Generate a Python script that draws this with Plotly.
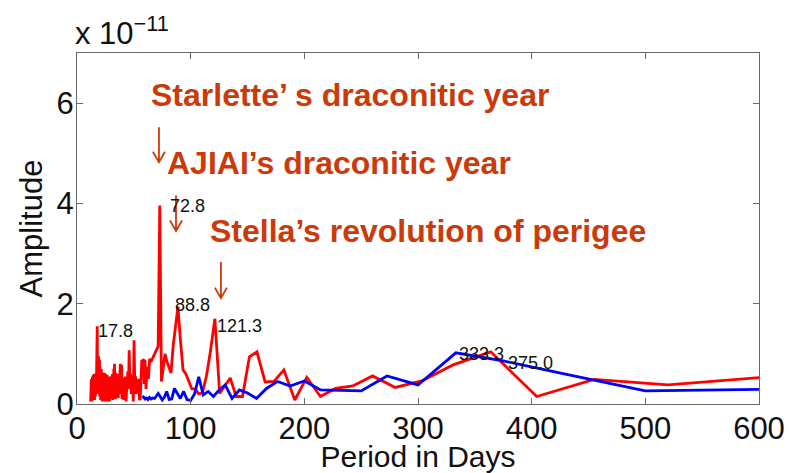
import plotly.graph_objects as go

# Amplitude spectra (amplitudes in units of 1e-11)
red_period = [
    12.0, 12.2, 12.4, 12.6, 12.8, 13.0, 13.2, 13.4, 13.6, 13.8, 14.0, 14.2, 14.4, 14.6, 14.8,
    15.0, 15.2, 15.4, 15.6, 15.8, 16.0, 16.2, 16.4, 16.6, 16.8, 17.0, 17.2, 17.4, 17.6, 17.8,
    18.0, 18.2, 18.4, 18.6, 18.8, 19.0, 19.2, 19.4, 19.6, 19.8,
    20.0, 20.2, 20.4, 20.6, 20.8, 21.0, 21.2, 21.4, 21.6, 21.8,
    22.0, 22.2, 22.4, 22.6, 22.8, 23.0, 23.2, 23.4, 23.6, 23.8,
    24.0, 24.2, 24.4, 24.6, 24.8, 25.0, 25.2, 25.4, 25.6, 25.8,
    26.0, 26.2, 26.4, 26.6, 26.8, 27.0, 27.2, 27.4, 27.6, 27.8,
    28.0, 28.2, 28.4, 28.6, 28.8, 29.0, 29.2, 29.4, 29.6, 29.8,
    30.0, 30.3, 30.6, 30.9, 31.2, 31.5, 31.8, 32.1, 32.4, 32.7,
    33.0, 33.3, 33.6, 33.9, 34.2, 34.5, 34.8, 35.1, 35.4, 35.7,
    36.0, 36.3, 36.6, 36.9, 37.2, 37.5, 37.8, 38.1, 38.4, 38.7,
    39.0, 39.3, 39.6, 39.9, 40.2, 40.5, 40.8, 41.1, 41.4, 41.7,
    42.0, 42.3, 42.6, 42.9, 43.2, 43.5, 43.8, 44.1, 44.4, 44.7,
    45.3, 45.9, 46.5, 47.1, 47.7, 48.3, 48.9, 49.5, 50.2, 50.8, 51.5,
    52.1, 52.8, 53.5, 54.2, 54.9, 55.6, 56.3, 57.0, 57.7, 58.4, 59.1, 59.8, 60.7, 61.7, 62.8,
    63.9, 65.0, 66.2, 67.4, 68.7, 70.0, 71.4, 72.8, 74.3, 75.8, 77.4, 79.1, 80.9, 82.7, 84.7,
    86.7, 88.8, 91.0, 93.3, 95.8, 98.4, 101.1, 104.0, 107.1, 110.3, 113.8, 117.4, 121.3, 125.5,
    130.0, 134.8, 140.0, 145.6, 151.7, 158.3, 165.5, 173.3, 182.0, 191.6, 202.2, 214.1, 227.5,
    242.7, 260.0, 280.0, 303.3, 330.9, 364.0, 404.4, 455.0, 520.0, 606.7,
]
red_amp = [
    0.05, 0.30, 0.10, 0.50, 0.15, 0.45, 0.05, 0.40, 0.55, 0.12, 0.50, 0.25, 0.58, 0.10, 0.45,
    0.30, 0.60, 0.08, 0.50, 0.30, 0.55, 0.15, 0.48, 0.35, 0.60, 0.20, 0.52, 0.40, 0.70, 1.55,
    0.55, 0.92, 0.30, 0.85, 0.45, 0.95, 0.20, 0.70, 0.50, 0.88,
    0.15, 0.74, 0.40, 0.65, 0.08, 0.55, 0.35, 0.70, 0.12, 0.60,
    0.45, 0.05, 0.58, 0.30, 0.62, 0.10, 0.50, 0.40, 0.05, 0.55,
    0.35, 0.62, 0.15, 0.58, 0.45, 0.08, 0.60, 0.30, 0.52, 0.05,
    0.48, 0.25, 0.58, 0.40, 0.10, 0.55, 0.35, 0.50, 0.05, 0.45,
    0.20, 0.55, 0.38, 0.06, 0.52, 0.30, 0.48, 0.10, 0.42, 0.25,
    0.55, 0.12, 0.48, 0.30, 0.60, 0.08, 0.45, 0.35, 0.70, 0.20,
    0.80, 0.40, 0.55, 0.10, 0.62, 0.35, 0.58, 0.15, 0.50, 0.30,
    0.60, 0.12, 0.55, 0.40, 0.20, 0.70, 0.45, 0.80, 0.25, 0.55,
    0.30, 0.78, 0.10, 0.48, 0.25, 0.52, 0.40, 0.08, 0.45, 0.30,
    0.50, 0.15, 0.55, 0.35, 0.05, 0.48, 0.25, 0.55, 0.40, 0.65,
    0.30, 1.07, 0.45, 0.60, 0.20, 0.55, 0.40, 0.05, 1.27, 0.45, 0.55,
    0.20, 0.48, 0.30, 0.50, 0.10, 0.08, 0.55, 0.88, 0.60, 0.90, 0.40, 0.88, 0.30, 0.74, 0.50,
    0.90, 0.84, 0.90, 0.94, 1.00, 1.08, 1.15, 3.96, 0.45, 0.70, 1.00, 0.85, 0.75, 0.62, 1.18,
    1.55, 1.94, 1.27, 0.68, 0.60, 0.45, 0.30, 0.30, 0.20, 0.22, 0.55, 1.05, 1.70, 0.21,
    0.35, 0.52, 0.15, 0.15, 0.94, 1.04, 0.44, 0.45, 0.68, 0.08, 0.53, 0.15, 0.31,
    0.36, 0.56, 0.33, 0.46, 0.78, 1.04, 0.15, 0.49, 0.38, 0.54,
]

blue_period = [
    57.7, 58.8, 60.0, 61.2, 62.5, 63.8, 65.2, 66.7, 68.2, 69.8, 71.4, 73.2, 75.0, 76.9, 78.9,
    81.1, 83.3, 85.7, 88.2, 90.9, 93.8, 96.8, 100.0, 103.4, 107.1, 111.1, 115.4, 120.0, 125.0,
    130.4, 136.4, 142.9, 150.0, 157.9, 166.7, 176.5, 187.5, 200.0, 214.3, 230.8, 250.0, 272.7,
    300.0, 333.3, 375.0, 428.6, 500.0, 600.0,
]
blue_amp = [
    0.16, 0.12, 0.10, 0.12, 0.09, 0.13, 0.10, 0.12, 0.11, 0.16, 0.21, 0.15, 0.08, 0.14, 0.25,
    0.09, 0.10, 0.31, 0.20, 0.11, 0.25, 0.09, 0.07, 0.20, 0.54, 0.18, 0.25, 0.15, 0.28,
    0.38, 0.11, 0.28, 0.22, 0.11, 0.31, 0.45, 0.36, 0.46, 0.28, 0.27, 0.26, 0.56,
    0.38, 1.02, 0.86, 0.60, 0.26, 0.29,
]

# Peak labels: (period, amplitude, x shift px, y shift px)
peak_labels = [
    (17.8, 1.55, -1, -5),
    (72.8, 3.96, 8, -1),
    (88.8, 1.94, -5, 2),
    (121.3, 1.70, 0, -7),
    (333.3, 1.02, 1, -1),
    (375.0, 0.86, 3, -2),
]

# Explanatory notes with arrows: (text, text x, text y, arrow x, arrow top, arrow tip)
notes = [
    ("Starlette\u2019 s draconitic year", 63.5, 6.16, 72.1, 5.52, 4.82),
    ("AJIAI\u2019s draconitic year", 77.0, 4.80, 87.1, 4.16, 3.45),
    ("Stella\u2019s revolution of perigee", 115.0, 3.45, 126.6, 2.83, 2.11),
]

NOTE_COLOR = "#cc3a0a"
AXIS_COLOR = "#6a6a6a"
FONT = "Liberation Sans, Arial, Helvetica, sans-serif"

fig = go.Figure()
fig.add_trace(go.Scatter(x=red_period, y=red_amp, mode="lines",
                         line=dict(color="#ff0000", width=2.8), hoverinfo="skip"))
fig.add_trace(go.Scatter(x=blue_period, y=blue_amp, mode="lines",
                         line=dict(color="#0000ff", width=2.8), hoverinfo="skip"))

annotations = []
for p, a, dx, dy in peak_labels:
    label = f"{p:.1f}"
    annotations.append(dict(x=p, y=a, xref="x", yref="y", text=label, showarrow=False,
                            xanchor="left", yanchor="middle", xshift=dx, yshift=dy,
                            font=dict(family=FONT, size=18, color="#111111")))

shapes = []
for text, tx, ty, ax, atop, atip in notes:
    annotations.append(dict(x=tx, y=ty, xref="x", yref="y", text=f"<b>{text}</b>",
                            showarrow=False, xanchor="left", yanchor="middle",
                            font=dict(family=FONT, size=32, color=NOTE_COLOR)))
    arm_dx, arm_dy = 5.3, 0.21
    path = (f"M {ax},{atop} L {ax},{atip} "
            f"M {ax - arm_dx},{atip + arm_dy} L {ax},{atip} L {ax + arm_dx},{atip + arm_dy}")
    shapes.append(dict(type="path", path=path, xref="x", yref="y",
                       line=dict(color=NOTE_COLOR, width=1.8)))

annotations.append(dict(x=0, y=1, xref="paper", yref="paper", text="x 10<sup>\u221211</sup>",
                        showarrow=False, xanchor="left", yanchor="bottom", xshift=-4, yshift=0,
                        font=dict(family=FONT, size=31, color="#111111")))

axis_common = dict(showline=True, linecolor=AXIS_COLOR, linewidth=1, mirror="ticks",
                   ticks="inside", ticklen=6, tickcolor=AXIS_COLOR, showgrid=False,
                   zeroline=False, automargin=False,
                   tickfont=dict(family=FONT, size=31, color="#111111"))

fig.update_layout(
    width=790, height=473,
    margin=dict(l=77, r=31, t=53, b=69),
    paper_bgcolor="white", plot_bgcolor="white",
    showlegend=False,
    annotations=annotations,
    shapes=shapes,
    xaxis=dict(range=[0, 600], tickvals=[0, 100, 200, 300, 400, 500, 600], ticklabelstandoff=-3,
               title=dict(text="Period in Days", font=dict(family=FONT, size=30, color="#111111"),
                          standoff=3),
               **axis_common),
    yaxis=dict(range=[0, 7], tickvals=[0, 2, 4, 6], ticklabelstandoff=-4,
               title=dict(text="Amplitude", font=dict(family=FONT, size=31, color="#111111"),
                          standoff=4),
               **axis_common),
)

fig.write_html("out.html")
